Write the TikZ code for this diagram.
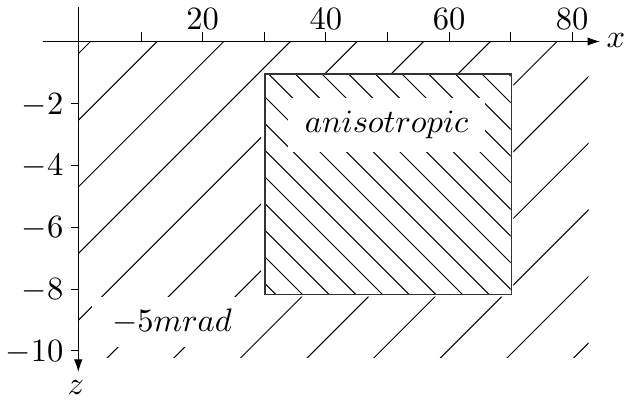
\documentclass[tikz,border=0pt]{standalone}
\usetikzlibrary{arrows.meta}
\tikzset{
  hatch/.style={line width=1pt, black},
  axisline/.style={line width=1pt, black},
  tickmark/.style={line width=1pt, black},
  whitebox/.style={fill=white, inner sep=0pt},
  bigtext/.style={inner sep=0pt, scale=3.25},
}
\begin{document}
\begin{tikzpicture}[x=1pt, y=-1pt]
\useasboundingbox (0,0) rectangle (633,401);
% outer hatching (north east lines), excluding the anisotropic block
\begin{scope}[even odd rule]
  \clip (78.3,41.5) rectangle (588.7,358) (261,73.3) rectangle (513.3,296.7);
  \foreach \k in {0,...,12}{
    \pgfmathsetmacro{\c}{132+66.64*\k}
    \draw[hatch] (\c,0) -- (\c-420,420);
  }
\end{scope}
% inner hatching (north west lines)
\begin{scope}
  \clip (264.3,73.3) rectangle (510.5,294);
  \foreach \k in {0,...,17}{
    \pgfmathsetmacro{\c}{-18.7+26.67*\k}
    \draw[hatch] (\c,0) -- (\c+420,420);
  }
\end{scope}
% block border
\node[draw=black!80, line width=1.3pt, inner sep=0pt, minimum width=246.2pt, minimum height=220.7pt, anchor=north west] (block) at (264.3,73.3) {};
% labels with white background
\node[whitebox, minimum width=197pt, minimum height=53.4pt] (anisobox) at (386.7,125) {};
\node[bigtext] (aniso) at (386.7,125) {$anisotropic$};
\node[whitebox, minimum width=155pt, minimum height=50pt] (mradbox) at (169.5,322) {};
\node[bigtext] (mrad) at (172,322) {$-5mrad$};
% axes
\coordinate (xstart) at (42.7,41.5);
\coordinate (xend) at (600,41.5);
\coordinate (zstart) at (78.3,7.3);
\coordinate (zend) at (78.3,372);
\draw[axisline, -{Latex[length=12.5pt, width=8.5pt]}] (xstart) -- (xend);
\draw[axisline, -{Latex[length=12.5pt, width=8.5pt]}] (zstart) -- (zend);
\node[bigtext] (xlab) at (615.8,40.5) {$x$};
\node[bigtext] (zlab) at (76,388) {$z$};
% x ticks
\foreach \k in {1,...,8}{
  \pgfmathsetmacro{\xx}{79.4+61.6*\k}
  \draw[tickmark] (\xx,41.5) -- (\xx,31.7);
}
\foreach \v/\k in {20/2,40/4,60/6,80/8}{
  \pgfmathsetmacro{\xx}{79.4+61.6*\k}
  \node[bigtext] (xt\v) at (\xx,19.5) {$\v$};
}
% z ticks
\foreach \k in {1,...,5}{
  \pgfmathsetmacro{\yy}{104+61.75*(\k-1)}
  \pgfmathtruncatemacro{\vv}{2*\k}
  \draw[tickmark] (78.3,\yy) -- (70.7,\yy);
  \node[bigtext, anchor=east] (zt\k) at (64,\yy+1) {$-\vv$};
}
\end{tikzpicture}
\end{document}
